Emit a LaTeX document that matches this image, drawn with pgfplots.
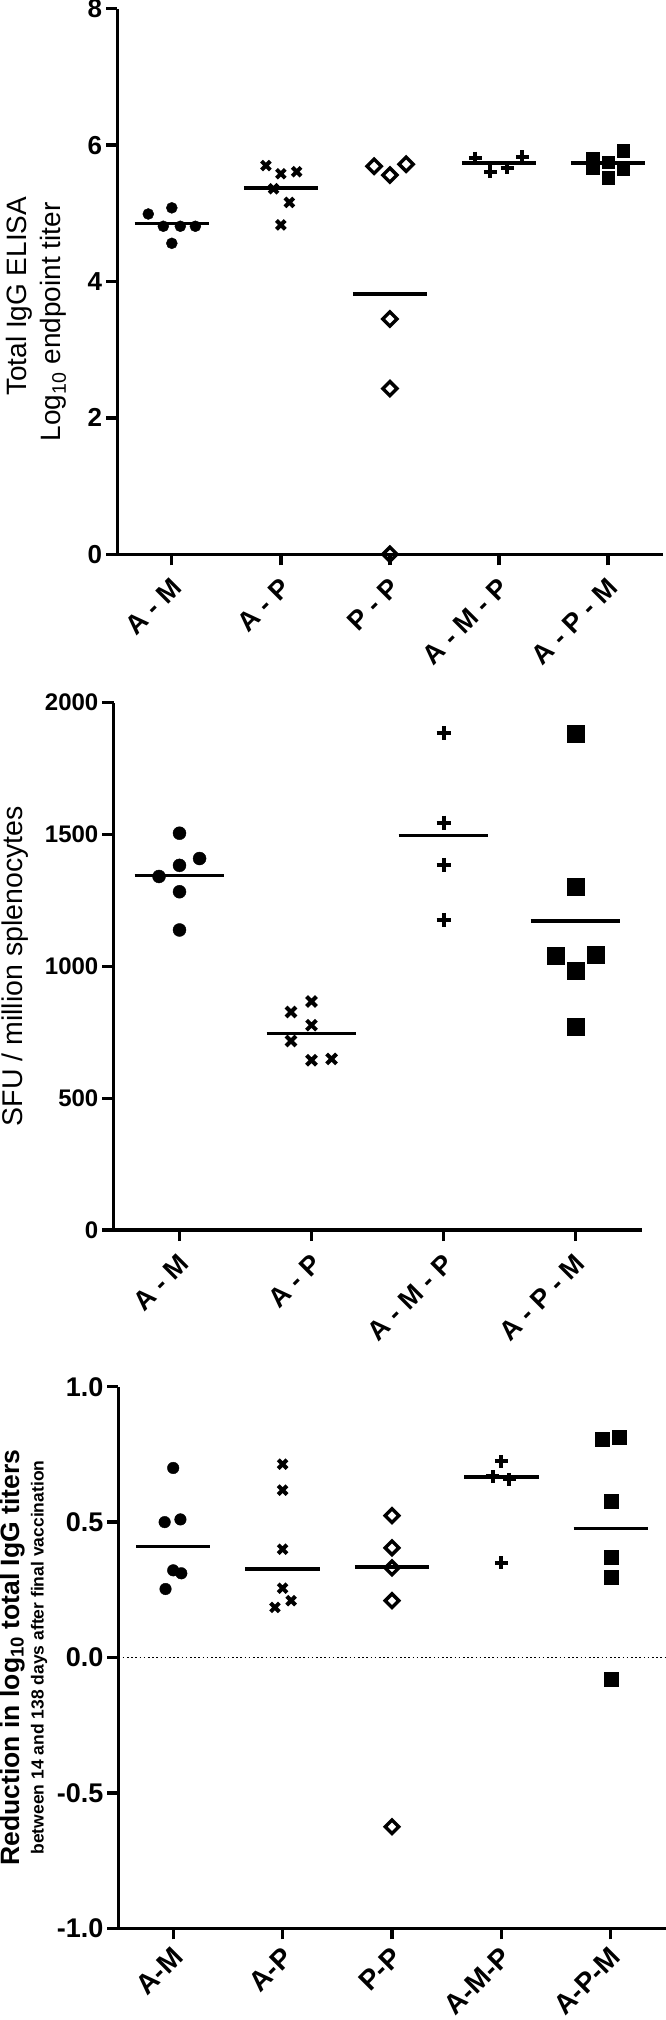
\documentclass[border=0pt]{standalone}
\usepackage{fontspec}
\setmainfont{Liberation Sans}
\usepackage{pgfplots}
\pgfplotsset{compat=1.18}
\begin{document}
\begin{tikzpicture}
\useasboundingbox (0pt,0pt) rectangle (666pt,-2020pt);
\pgfplotsset{
  prism/.style={
    scale only axis,
    axis x line*=bottom, axis y line*=left,
    axis line style={-, line width=3.3pt},
    tick align=outside,
    major tick length=11pt,
    tick style={black, line width=3.3pt},
    /pgf/number format/assume math mode=true,
    /pgf/number format/1000 sep={},
    clip=false,
    xtick={0,...,4},
    xmin=-0.5,
    xticklabel style={rotate=45, anchor=east, inner sep=0pt, xshift=7pt},
    xticklabel shift=23pt,
    yticklabel style={inner sep=0pt},
    yticklabel shift=4pt,
    ylabel style={anchor=center},
  },
  meanline/.style={black, line width=3.5pt, no marks},
  circ/.style={only marks, mark=*, mark size=#1, mark options={draw=black, fill=black}},
  xm/.style={only marks, mark=x, mark size=#1, mark options={draw=black, line width=4pt}},
  dia/.style={only marks, mark=square, mark size=#1, mark options={draw=black, fill=white, rotate=45, line width=3.4pt}},
  pls/.style={only marks, mark=+, mark size=#1, mark options={draw=black, line width=4pt}},
  sqr/.style={only marks, mark=square*, mark size=#1, mark options={draw=black, fill=black}},
}
% ---------------- Panel 1 ----------------
\begin{axis}[prism,
  at={(117.3pt,-554.3pt)}, anchor=south west,
  width=545.2pt, height=545.6pt,
  xmax=4.5, ymin=0, ymax=8, ytick={0,2,4,6,8},
  xticklabels={A - M, A - P, P - P, A - M - P, A - P - M},
  xticklabel style={font=\fontsize{27}{27}\selectfont\bfseries},
  yticklabel style={font=\fontsize{26}{26}\selectfont\bfseries},
  ylabel={Log\textsubscript{10} endpoint titer},
  ylabel style={at={(axis description cs:-0.117,0.426)}, font=\fontsize{28}{28}\selectfont},
]
\node[rotate=90, anchor=center, font=\fontsize{28}{28}\selectfont] at (axis description cs:-0.180,0.473) {Total IgG ELISA};
\addplot[circ=5.5pt] coordinates {(-0.216,4.99) (0,5.08) (-0.078,4.81) (0.078,4.81) (0.216,4.81) (0,4.56)};
\addplot[xm=6.2pt] coordinates {(0.863,5.70) (1,5.58) (1.145,5.61) (0.933,5.36) (1.078,5.16) (1,4.83)};
\addplot[dia=5pt] coordinates {(1.855,5.69) (2,5.56) (2.149,5.72) (2,3.45) (2,2.43) (2,0)};
\addplot[pls=6.5pt] coordinates {(2.784,5.81) (2.922,5.61) (3.078,5.67) (3.216,5.83)};
\addplot[sqr=6.2pt] coordinates {(3.86,5.80) (3.86,5.67) (4,5.75) (4,5.52) (4.14,5.92) (4.14,5.65)};
\addplot[meanline] coordinates {(-0.34,4.85) (0.34,4.85)};
\addplot[meanline] coordinates {(0.66,5.37) (1.34,5.37)};
\addplot[meanline] coordinates {(1.66,3.82) (2.34,3.82)};
\addplot[meanline] coordinates {(2.66,5.74) (3.34,5.74)};
\addplot[meanline] coordinates {(3.66,5.74) (4.34,5.74)};
\end{axis}
% ---------------- Panel 2 ----------------
\begin{axis}[prism,
  at={(113.5pt,-1230pt)}, anchor=south west,
  width=528pt, height=527.3pt,
  xmax=3.5, xtick={0,...,3}, ymin=0, ymax=2000, ytick={0,500,1000,1500,2000},
  xticklabels={A - M, A - P, A - M - P, A - P - M},
  xticklabel style={font=\fontsize{27}{27}\selectfont\bfseries},
  yticklabel style={font=\fontsize{24}{24}\selectfont\bfseries},
  ylabel={SFU / million splenocytes},
  ylabel style={at={(axis description cs:-0.1866,0.5)}, font=\fontsize{28.5}{28.5}\selectfont},
]
\addplot[circ=6.5pt] coordinates {(0,1505) (0.152,1409) (0,1383) (-0.155,1341) (0,1283) (0,1138)};
\addplot[xm=7pt] coordinates {(1,867) (0.845,827) (1,777) (0.845,717) (1,644) (1.152,649)};
\addplot[pls=7pt] coordinates {(2,1884) (2,1545) (2,1385) (2,1176)};
\addplot[sqr=8.5pt] coordinates {(3,1881) (3,1303) (2.848,1040) (3.155,1045) (3,984) (3,773)};
\addplot[meanline] coordinates {(-0.34,1344) (0.34,1344)};
\addplot[meanline] coordinates {(0.66,746) (1.34,746)};
\addplot[meanline] coordinates {(1.66,1497) (2.34,1497)};
\addplot[meanline] coordinates {(2.66,1172) (3.34,1172)};
\end{axis}
% ---------------- Panel 3 ----------------
\begin{axis}[prism,
  at={(118.5pt,-1928.3pt)}, anchor=south west,
  width=547pt, height=541.6pt,
  xmax=4.5, ymin=-1, ymax=1, ytick={-1,-0.5,0,0.5,1},
  yticklabel={\pgfmathprintnumber[fixed,fixed zerofill,precision=1]{\tick}},
  xticklabels={A-M, A-P, P-P, A-M-P, A-P-M},
  xticklabel style={font=\fontsize{28}{28}\selectfont\bfseries},
  xticklabel shift=18pt,
  yticklabel style={font=\fontsize{27}{27}\selectfont\bfseries},
  ylabel={\bfseries Reduction in log\textsubscript{10} total IgG titers},
  ylabel style={at={(axis description cs:-0.194,0.5)}, font=\fontsize{26.5}{26.5}\selectfont},
]
\node[rotate=90, anchor=center, font=\fontsize{17.5}{17.5}\selectfont\bfseries] at (axis description cs:-0.1453,0.5) {between 14 and 138 days after final vaccination};
\addplot[black, line width=1.6pt, dash pattern=on 1.6pt off 2.6pt, no marks] coordinates {(-0.5,0) (4.5,0)};
\addplot[circ=5.8pt] coordinates {(0,0.70) (-0.078,0.50) (0.066,0.51) (0,0.322) (0.074,0.311) (-0.07,0.253)};
\addplot[xm=6.2pt] coordinates {(1,0.714) (1,0.618) (1,0.40) (1,0.256) (0.93,0.185) (1.078,0.21)};
\addplot[dia=4.8pt] coordinates {(2,0.524) (2,0.405) (2,0.331) (2,0.21) (2,-0.625)};
\addplot[pls=6.5pt] coordinates {(3,0.724) (2.922,0.669) (3.07,0.658) (3,0.35)};
\addplot[sqr=7pt] coordinates {(3.922,0.807) (4.074,0.813) (4,0.579) (4,0.369) (4,0.298) (4,-0.079)};
\addplot[meanline] coordinates {(-0.34,0.41) (0.34,0.41)};
\addplot[meanline] coordinates {(0.66,0.327) (1.34,0.327)};
\addplot[meanline] coordinates {(1.66,0.334) (2.34,0.334)};
\addplot[meanline] coordinates {(2.66,0.666) (3.34,0.666)};
\addplot[meanline] coordinates {(3.66,0.476) (4.34,0.476)};
\end{axis}
\end{tikzpicture}
\end{document}
